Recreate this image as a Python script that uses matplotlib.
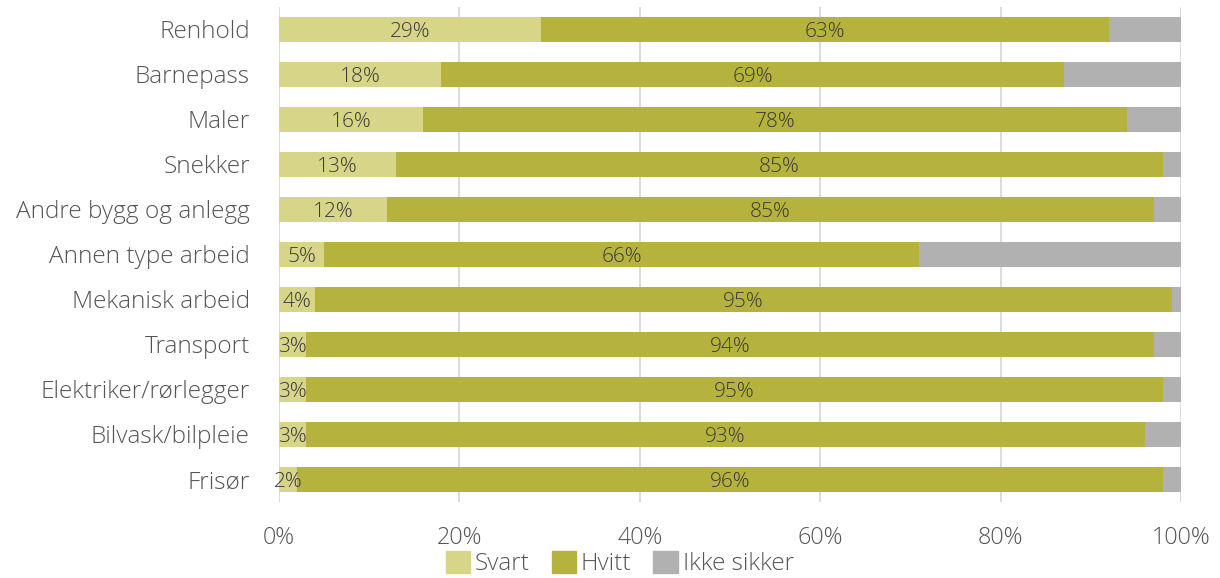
import matplotlib
matplotlib.use("Agg")
import matplotlib.pyplot as plt
import numpy as np
from matplotlib.patches import Patch

plt.rcParams['font.family'] = ['Open Sans', 'DejaVu Sans']
plt.rcParams['font.weight'] = 'light'

categories = ["Renhold", "Barnepass", "Maler", "Snekker", "Andre bygg og anlegg",
              "Annen type arbeid", "Mekanisk arbeid", "Transport",
              "Elektriker/rørlegger", "Bilvask/bilpleie", "Frisør"]
svart = [29, 18, 16, 13, 12, 5, 4, 3, 3, 3, 2]
hvitt = [63, 69, 78, 85, 85, 66, 95, 94, 95, 93, 96]
ikke_sikker = [100 - s - h for s, h in zip(svart, hvitt)]
xticks = [0, 20, 40, 60, 80, 100]

c_svart = "#D7D688"
c_hvitt = "#B5B33D"
c_ikke = "#B1B1B1"
txt = "#3A3A3A"
tick_col = "#555555"

fig = plt.figure(figsize=(12.2, 5.78), dpi=100)
ax = fig.add_axes([0.2287, 0.1315, 0.7393, 0.8565])

y = np.arange(len(categories))
h = 0.56
s = np.array(svart, float)
w = np.array(hvitt, float)
k = np.array(ikke_sikker, float)

ax.barh(y, s, height=h, color=c_svart, zorder=2)
ax.barh(y, w, left=s, height=h, color=c_hvitt, zorder=2)
ax.barh(y, k, left=s + w, height=h, color=c_ikke, zorder=2)

for i in range(len(categories)):
    ax.text(s[i] / 2, y[i], f"{svart[i]}%", ha="center", va="center_baseline",
            fontsize=15, color=txt, zorder=3)
    ax.text(s[i] + w[i] / 2, y[i], f"{hvitt[i]}%", ha="center", va="center_baseline",
            fontsize=15, color=txt, zorder=3)

ax.set_xlim(0, 100)
ax.set_ylim(len(categories) - 0.5, -0.5)
ax.set_yticks(y)
ax.set_yticklabels(categories, fontsize=17.6, color=tick_col)
ax.set_xticks(xticks)
ax.set_xticklabels([f"{t}%" for t in xticks], fontsize=16.8, color=tick_col)
ax.tick_params(axis="both", length=0)
ax.tick_params(axis="x", pad=17)
ax.tick_params(axis="y", pad=21)
for sp in ax.spines.values():
    sp.set_visible(False)
ax.grid(axis="x", color="#D9D9D9", linewidth=1.3, zorder=0)
ax.set_axisbelow(True)

handles = [Patch(color=c_svart, label="Svart"),
           Patch(color=c_hvitt, label="Hvitt"),
           Patch(color=c_ikke, label="Ikke sikker")]
leg = fig.legend(handles=handles, loc="lower center", ncol=3, frameon=False,
                 bbox_to_anchor=(0.508, -0.035), fontsize=17.5, handlelength=1.0,
                 handleheight=1.0, handletextpad=0.2, columnspacing=0.9)
for t in leg.get_texts():
    t.set_color(tick_col)

fig.savefig("out.png", dpi=100)
